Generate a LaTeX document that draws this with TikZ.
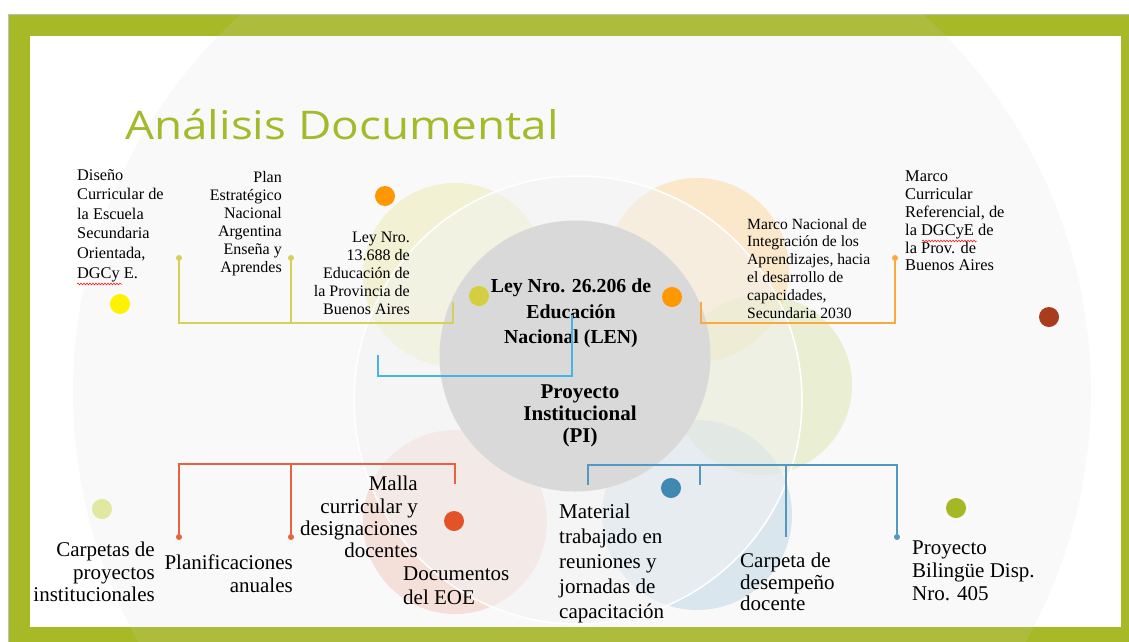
\documentclass[tikz,border=0pt]{standalone}
\usepackage{fontspec}
\setmainfont{Liberation Serif}
\newfontfamily\titlefont{Open Sans}
\usetikzlibrary{positioning}
\usetikzlibrary{decorations.pathmorphing}

\definecolor{frameGreen}{RGB}{168,185,40}
\definecolor{titleGreen}{RGB}{165,186,42}
\definecolor{haloGray}{RGB}{212,212,212}
\definecolor{ringGray}{RGB}{243,243,243}
\definecolor{coreGray}{RGB}{217,217,217}
\definecolor{petalYellow}{RGB}{233,230,160}
\definecolor{petalOrange}{RGB}{255,210,140}
\definecolor{petalGreen}{RGB}{215,225,160}
\definecolor{petalBlue}{RGB}{175,205,225}
\definecolor{petalRed}{RGB}{240,190,175}
\definecolor{lineYellow}{RGB}{214,208,86}
\definecolor{lineOrange}{RGB}{247,170,64}
\definecolor{lineSky}{RGB}{70,180,228}
\definecolor{lineRed}{RGB}{232,98,66}
\definecolor{lineBlue}{RGB}{82,152,192}
\definecolor{dotOrange}{RGB}{255,152,0}
\definecolor{dotYellow}{RGB}{255,242,0}
\definecolor{dotOlive}{RGB}{212,207,64}
\definecolor{dotBrown}{RGB}{168,60,28}
\definecolor{dotPale}{RGB}{225,232,160}
\definecolor{dotRed}{RGB}{226,84,40}
\definecolor{dotBlue}{RGB}{62,136,178}
\definecolor{dotGreen}{RGB}{164,184,38}

\tikzset{
  small text/.style={inner sep=0pt, font=\fontsize{16}{18}\selectfont},
  big text/.style={inner sep=0pt, font=\fontsize{21}{22.3}\selectfont},
  core text/.style={inner sep=0pt, align=center, anchor=north},
  bigdot/.style={circle, inner sep=0pt, minimum size=20pt},
  tipdot/.style={circle, inner sep=0pt, minimum size=6pt},
  bracket/.style={line width=1.3pt},
  petal/.style={opacity=.42},
  spellmark/.style={red, line width=.5pt, decorate, decoration={snake, amplitude=.9pt, segment length=3pt}}
}

\begin{document}
\begin{tikzpicture}[x=1pt, y=-1pt]
\useasboundingbox (0,0) rectangle (1129,641);

% frame
\fill[frameGreen] (8,14) rectangle (1140,650);
\draw[black!25, line width=1pt] (8,650) -- (8,14) -- (1140,14);
\fill[white] (30,36) rectangle (1121,627);
\begin{scope}
  \clip (8,14) rectangle (1140,650);
  \fill[haloGray, opacity=.12] (582,392) circle [radius=509pt];
\end{scope}

% petals round the core
\fill[petalYellow, petal] (455,275) circle [radius=92pt];
\fill[petalOrange, petal] (697,270) circle [radius=92pt];
\fill[petalGreen, petal] (762,385) circle [radius=90pt];
\fill[petalBlue, petal] (697,515) circle [radius=95pt];
\fill[petalRed, petal] (455,522) circle [radius=92pt];
\filldraw[fill=ringGray, fill opacity=.5, draw=white, line width=1.5pt] (578,400) circle [radius=224pt];
\fill[coreGray] (575,356) circle [radius=135.5pt];

% title
\node[anchor=base west, inner sep=0pt, text=titleGreen, font=\titlefont\fontsize{39.5}{40}\selectfont] (title) at (125,139) {\scalebox{1.16}[1]{Análisis Documental}};

% dots
\node[bigdot, fill=dotOrange] (dOrangeA) at (385,196) {};
\node[bigdot, fill=dotYellow] (dYellow) at (120,304) {};
\node[bigdot, fill=dotOlive] (dOlive) at (479,296) {};
\node[bigdot, fill=dotOrange] (dOrangeB) at (672,297) {};
\node[bigdot, fill=dotBrown] (dBrown) at (1049,317) {};
\node[bigdot, fill=dotPale] (dPale) at (102,509) {};
\node[bigdot, fill=dotRed] (dRed) at (454,521) {};
\node[bigdot, fill=dotBlue] (dBlue) at (671,488) {};
\node[bigdot, fill=dotGreen] (dGreen) at (956,508) {};

% top texts
\node[small text, anchor=north west, align=left, font=\fontsize{16.3}{19.6}\selectfont] (disenio) at (77,169) {Diseño\\Curricular de\\la Escuela\\Secundaria\\Orientada,\\DGCy E.};
\node[small text, anchor=north east, align=right] (planEst) at (282,171) {Plan\\Estratégico\\Nacional\\Argentina\\Enseña y\\Aprendes};
\node[small text, anchor=north east, align=right] (ley13) at (410,232) {Ley Nro.\\13.688 de\\Educación de\\la Provincia de\\Buenos Aires};
\node[small text, anchor=north west, align=left, font=\fontsize{15.6}{17.8}\selectfont] (marcoNac) at (747,218) {Marco Nacional de\\Integración de los\\Aprendizajes, hacia\\el desarrollo de\\capacidades,\\Secundaria 2030};
\node[small text, anchor=north west, align=left, font=\fontsize{16.4}{17.8}\selectfont] (marcoCur) at (905,171) {Marco\\Curricular\\Referencial, de\\la DGCyE de\\la Prov. de\\Buenos Aires};
\draw[spellmark] (77,284) -- (122,284);
\draw[spellmark] (922,241) -- (977,241);

% centre texts
\node[core text, font=\bfseries\fontsize{19.8}{25.5}\selectfont] (len) at (571,279) {Ley Nro. 26.206 de\\Educación\\Nacional (LEN)};
\node[core text, font=\bfseries\fontsize{21}{22}\selectfont] (pi) at (580,385) {Proyecto\\Institucional\\(PI)};

% bottom texts
\node[big text, anchor=north east, align=right] (carpetas) at (155,542) {Carpetas de\\proyectos\\institucionales};
\node[big text, anchor=north east, align=right] (planif) at (293,555) {Planificaciones\\anuales};
\node[big text, anchor=north east, align=right] (malla) at (418,476) {Malla\\curricular y\\designaciones\\docentes};
\node[big text, anchor=north west, align=left, font=\fontsize{21}{24}\selectfont] (docEOE) at (403,567) {Documentos\\del EOE};
\node[big text, anchor=north west, align=left, font=\fontsize{21}{25}\selectfont] (material) at (559,504) {Material\\trabajado en\\reuniones y\\jornadas de\\capacitación};
\node[big text, anchor=north west, align=left, font=\fontsize{21}{21.5}\selectfont] (carpDes) at (740,553) {Carpeta de\\desempeño\\docente};
\node[big text, anchor=north west, align=left, font=\fontsize{21}{23}\selectfont] (bilingue) at (912,541) {Proyecto\\Bilingüe Disp.\\Nro. 405};

% yellow bracket
\node[tipdot, fill=lineYellow] (tDis) at (179,258) {};
\node[tipdot, fill=lineYellow] (tPlan) at (291,258) {};
\coordinate (cLey13) at (453,302);
\coordinate (yBar) at (0,323);
\draw[bracket, lineYellow] (tDis) -- (tDis |- yBar) -- (cLey13 |- yBar) -- (cLey13);
\draw[bracket, lineYellow] (tPlan) -- (tPlan |- yBar);

% orange bracket
\node[tipdot, fill=lineOrange] (tMarco) at (895,258) {};
\coordinate (cMarcoNac) at (701,302);
\coordinate (oBar) at (0,323);
\draw[bracket, lineOrange] (tMarco) -- (tMarco |- oBar) -- (cMarcoNac |- oBar) -- (cMarcoNac);

% sky-blue link
\coordinate (cLen) at (572,315);
\coordinate (cLeft) at (378,355);
\coordinate (sBar) at (0,376);
\draw[bracket, lineSky] (cLen) -- (cLen |- sBar) -- (cLeft |- sBar) -- (cLeft);

% red bracket
\node[tipdot, fill=lineRed] (tCarp) at (179,537) {};
\node[tipdot, fill=lineRed] (tPlanif) at (291,537) {};
\coordinate (cMalla) at (455,484);
\coordinate (rBar) at (0,464);
\draw[bracket, lineRed] (tCarp) -- (tCarp |- rBar) -- (cMalla |- rBar) -- (cMalla);
\draw[bracket, lineRed] (tPlanif) -- (tPlanif |- rBar);

% blue bracket
\node[tipdot, fill=lineBlue] (tBil) at (897,537) {};
\coordinate (cMat) at (588,485);
\coordinate (cMid) at (700,485);
\coordinate (cCarpDes) at (786,537);
\coordinate (bBar) at (0,465);
\draw[bracket, lineBlue] (cMat) -- (cMat |- bBar) -- (tBil |- bBar) -- (tBil);
\draw[bracket, lineBlue] (cMid) -- (cMid |- bBar);
\draw[bracket, lineBlue] (cCarpDes) -- (cCarpDes |- bBar);
\end{tikzpicture}
\end{document}
